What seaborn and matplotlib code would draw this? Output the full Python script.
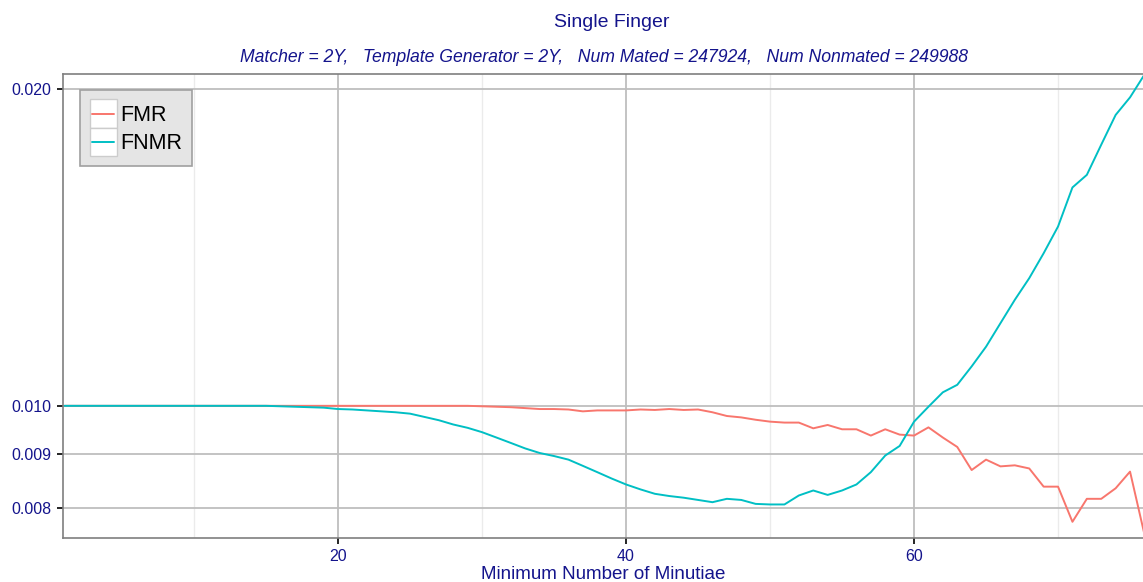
import numpy as np
import pandas as pd
import matplotlib
matplotlib.use("Agg")
import matplotlib.pyplot as plt
import matplotlib.ticker as mticker
from matplotlib.legend_handler import HandlerBase
from matplotlib.patches import Rectangle
from matplotlib.lines import Line2D
import seaborn as sns

# ---- data ----
min_minutiae = list(range(1, 77))
fmr = [0.01000] * 29 + [
    0.00999, 0.00998, 0.00997, 0.00995, 0.00993, 0.00993, 0.00992, 0.00988, 0.00990, 0.00990,  # 30-39
    0.00990, 0.00992, 0.00991, 0.00993, 0.00991, 0.00992, 0.00986, 0.00978, 0.00975, 0.00970,  # 40-49
    0.00966, 0.00964, 0.00964, 0.00952, 0.00959, 0.00950, 0.00950, 0.00937, 0.00950, 0.00939,  # 50-59
    0.00937, 0.00954, 0.00933, 0.00914, 0.00869, 0.00889, 0.00876, 0.00878, 0.00872, 0.00838,  # 60-69
    0.00838, 0.00776, 0.00816, 0.00816, 0.00835, 0.00866, 0.00755]                            # 70-76
fnmr = [0.01000] * 15 + [
    0.00999, 0.00998, 0.00997, 0.00996,                                                        # 16-19
    0.00993, 0.00992, 0.00990, 0.00988, 0.00986, 0.00983, 0.00976, 0.00969, 0.00960, 0.00953,  # 20-29
    0.00944, 0.00933, 0.00922, 0.00911, 0.00902, 0.00896, 0.00889, 0.00877, 0.00865, 0.00853,  # 30-39
    0.00842, 0.00833, 0.00825, 0.00821, 0.00818, 0.00814, 0.00810, 0.00816, 0.00814, 0.00807,  # 40-49
    0.00806, 0.00806, 0.00822, 0.00831, 0.00823, 0.00831, 0.00842, 0.00865, 0.00897, 0.00916,  # 50-59
    0.00966, 0.00998, 0.01030, 0.01047, 0.01090, 0.01138, 0.01198, 0.01261, 0.01322, 0.01396,  # 60-69
    0.01480, 0.01612, 0.01657, 0.01770, 0.01889, 0.01963, 0.02063]                            # 70-76
series_names = ["FMR", "FNMR"]
y_ticks = [0.008, 0.009, 0.010, 0.020]
y_tick_labels = ["0.008", "0.009", "0.010", "0.020"]
x_ticks = [20, 40, 60]
x_minor = [10, 30, 50, 70]

df = pd.DataFrame({
    "x": min_minutiae * 2,
    "value": fmr + fnmr,
    "metric": ["FMR"] * len(fmr) + ["FNMR"] * len(fnmr),
})

sns.set_theme(style="white")
plt.rcParams["font.family"] = ["Liberation Sans", "DejaVu Sans"]

txt = "#14148c"
fig = plt.figure(figsize=(11.43, 5.82), dpi=100)
ax = fig.add_axes([0.0549, 0.0756, 0.9451, 0.7973])

palette = {"FMR": "#F8766D", "FNMR": "#00BFC4"}
sns.lineplot(data=df, x="x", y="value", hue="metric", palette=palette,
             linewidth=1.4, ax=ax, legend=False)

ax.set_yscale("log")
ax.set_xlim(0.88, 75.9)
ax.set_ylim(0.00749, 0.02066)
ax.yaxis.set_major_locator(mticker.FixedLocator(y_ticks))
ax.yaxis.set_major_formatter(mticker.FixedFormatter(y_tick_labels))
ax.yaxis.set_minor_locator(mticker.NullLocator())
ax.yaxis.set_minor_formatter(mticker.NullFormatter())
ax.xaxis.set_major_locator(mticker.FixedLocator(x_ticks))
ax.xaxis.set_minor_locator(mticker.FixedLocator(x_minor))

ax.grid(which="major", color="#BEBEBE", linewidth=1.3)
ax.grid(which="minor", axis="x", color="#EBEBEB", linewidth=1.0)
ax.set_axisbelow(True)

for s in ["left", "bottom", "top"]:
    ax.spines[s].set_color("#7F7F7F")
    ax.spines[s].set_linewidth(1.2)
ax.spines["right"].set_visible(False)

ax.tick_params(axis="both", which="major", length=4, width=1.2, color="black",
               labelsize=11.5, labelcolor=txt, direction="out", bottom=True, left=True,
               pad=4)
ax.tick_params(axis="x", which="minor", length=0)

ax.set_xlabel("Minimum Number of Minutiae", fontsize=13.5, color=txt, labelpad=1.5)
ax.set_ylabel("")

fig.text(0.535, 0.962, "Single Finger", ha="center", va="center",
         fontsize=14, color=txt)
fig.text(0.528, 0.901,
         "Matcher = 2Y,   Template Generator = 2Y,   Num Mated = 247924,   Num Nonmated = 249988",
         ha="center", va="center", fontsize=12.7, style="italic", color=txt)


class BoxLineHandler(HandlerBase):
    def __init__(self, color):
        super().__init__()
        self.color = color

    def create_artists(self, legend, orig_handle, xdescent, ydescent, width, height, fontsize, trans):
        rect = Rectangle((-xdescent, -ydescent), width, height,
                         facecolor="white", edgecolor="#CCCCCC", linewidth=1.0, transform=trans)
        line = Line2D([-xdescent + 2, -xdescent + width - 2], [height / 2 - ydescent] * 2,
                      color=self.color, linewidth=1.4, transform=trans)
        return [rect, line]


handles = [Line2D([], [], color=palette[n]) for n in series_names]
leg = ax.legend(handles, series_names, loc="upper left", bbox_to_anchor=(0.016, 0.966),
                borderaxespad=0, fancybox=False, framealpha=1, fontsize=15.5,
                handlelength=1.25, handleheight=1.65, handletextpad=0.15, labelspacing=0.0,
                borderpad=0.45,
                handler_map={handles[0]: BoxLineHandler(palette["FMR"]),
                             handles[1]: BoxLineHandler(palette["FNMR"])})
leg.get_frame().set_facecolor("#E5E5E5")
leg.get_frame().set_edgecolor("#A0A0A0")
leg.get_frame().set_linewidth(1.2)
for t in leg.get_texts():
    t.set_color("black")

fig.savefig("out.png", dpi=100)
